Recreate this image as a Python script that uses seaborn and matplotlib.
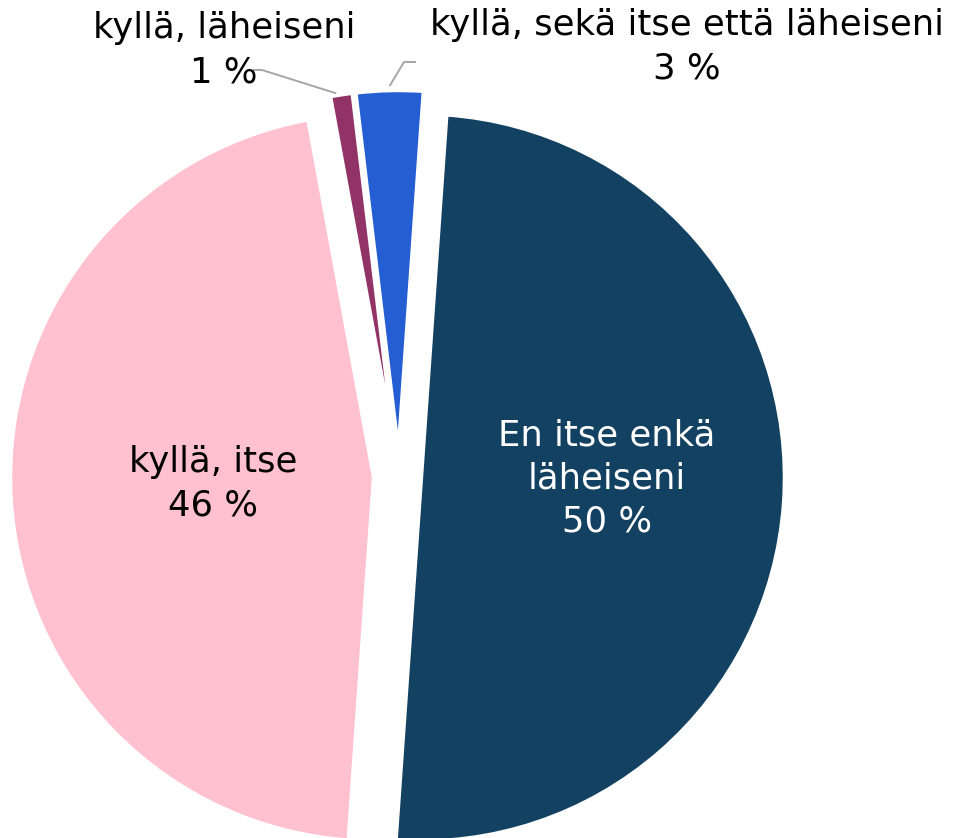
import matplotlib
matplotlib.use("Agg")
import matplotlib.pyplot as plt
import seaborn as sns
import numpy as np

# ---- data ----
categories = ["En itse enkä läheiseni", "kyllä, itse", "kyllä, läheiseni",
              "kyllä, sekä itse että läheiseni"]
values = [50, 46, 1, 3]
value_labels = ["50 %", "46 %", "1 %", "3 %"]
colors = ["#134162", "#FFC0CF", "#913367", "#245ED2"]

sns.set_theme(style="white")
plt.rcParams["font.family"] = ["DejaVu Sans"]

W, H = 962, 838
fig = plt.figure(figsize=(W / 100, H / 100), dpi=100)
ax = fig.add_axes([0, 0, 1, 1])

def Y(y):  # image row -> data y
    return H - y

center = (399, Y(476))
radius = 364
explode = [22, 25, 22, 22]
edge_px = 4.4

wedges, _ = ax.pie(values, colors=colors, startangle=86, counterclock=False,
                   center=center, radius=radius, explode=explode,
                   wedgeprops=dict(edgecolor="white", linewidth=edge_px * 72 / 100),
                   frame=True)
ax.set_xlim(0, W)
ax.set_ylim(0, H)
ax.set_aspect("equal")
ax.axis("off")

fs = 25.5
tk = dict(fontsize=fs, ha="center", va="center")
# inside labels
ax.text(607, Y(435), "En itse enkä", color="white", **tk)
ax.text(607, Y(478), "läheiseni", color="white", **tk)
ax.text(607, Y(521), value_labels[0], color="white", **tk)
ax.text(213, Y(462), categories[1], color="black", **tk)
ax.text(213, Y(505), value_labels[1], color="black", **tk)

# outside labels
ax.text(224, Y(28), categories[2], color="black", **tk)
ax.text(224, Y(72), value_labels[2], color="black", **tk)
ax.text(687, Y(25), categories[3], color="black", **tk)
ax.text(687, Y(68), value_labels[3], color="black", **tk)

# leader lines
lc = "#A6A6A6"
def outer_point(w, r_off=0):
    th = np.deg2rad((w.theta1 + w.theta2) / 2)
    cx, cy = w.center
    return cx + (w.r + r_off) * np.cos(th), cy + (w.r + r_off) * np.sin(th)

px, py = outer_point(wedges[2])
ax.plot([253, 262, px - 5], [Y(70), Y(70), py + 1], color=lc, lw=1.4, solid_capstyle="butt")
bx, by = outer_point(wedges[3])
ax.plot([bx, 404, 416], [by + 4, Y(62), Y(62)], color=lc, lw=1.4, solid_capstyle="butt")

fig.savefig("out.png", dpi=100)
